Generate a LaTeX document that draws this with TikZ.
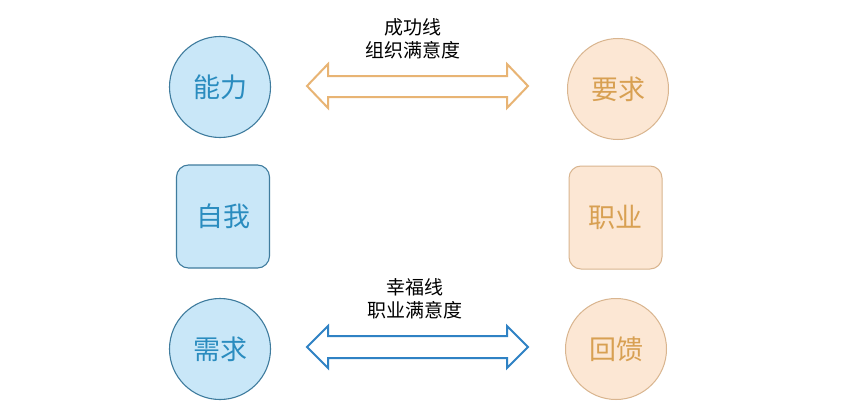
\documentclass[tikz,border=0pt]{standalone}
\usepackage{fontspec}
\setmainfont{Noto Sans CJK SC}
\begin{document}
\begin{tikzpicture}[x=1pt,y=-1pt,
  bluefill/.style={draw=blueline,fill=bluebg,line width=1.1pt,text=bluetext,font=\fontsize{27}{30}\selectfont},
  orfill/.style={draw=orline,fill=orbg,line width=1pt,text=ortext,font=\fontsize{27}{30}\selectfont},
  circ/.style={circle,minimum size=101pt,inner sep=0pt},
  rbox/.style={rectangle,rounded corners=12pt,minimum width=93pt,minimum height=103pt,inner sep=0pt},
  lbl/.style={align=center,font=\fontsize{19}{23}\selectfont,text=black}]
\definecolor{bluebg}{HTML}{C9E7F8}
\definecolor{blueline}{HTML}{3F7C9E}
\definecolor{bluetext}{HTML}{2A8CBF}
\definecolor{orbg}{HTML}{FCE7D4}
\definecolor{orline}{HTML}{D9B58F}
\definecolor{ortext}{HTML}{D8A052}
\definecolor{arrowor}{HTML}{E8B474}
\definecolor{arrowbl}{HTML}{2F82C4}
\useasboundingbox[fill=white] (0,0) rectangle (843,412);
% left column
\node[bluefill,circ] (nl) at (220,87) {能力};
\node[bluefill,rbox] (zw) at (223,216.5) {自我};
\node[bluefill,circ] (xq) at (220,349) {需求};
% right column
\node[orfill,circ] (yq) at (618,89) {要求};
\node[orfill,rbox] (zy) at (615.5,217.5) {职业};
\node[orfill,circ] (hk) at (616,349) {回馈};
% labels
\node[lbl] (t1) at (413,39) {成功线\\组织满意度};
\node[lbl] (t2) at (415,299) {幸福线\\职业满意度};
% top double arrow
\draw[draw=arrowor,fill=white,line width=2pt,line join=miter]
  (307,86) -- (328,64) -- (328,76) -- (507,76) -- (507,64) -- (528,86)
  -- (507,108) -- (507,97) -- (328,97) -- (328,108) -- cycle;
% bottom double arrow
\draw[draw=arrowbl,fill=white,line width=2pt,line join=miter]
  (307,347) -- (328,326) -- (328,336) -- (507,336) -- (507,326) -- (528,347)
  -- (507,368) -- (507,358) -- (328,358) -- (328,368) -- cycle;
\end{tikzpicture}
\end{document}
